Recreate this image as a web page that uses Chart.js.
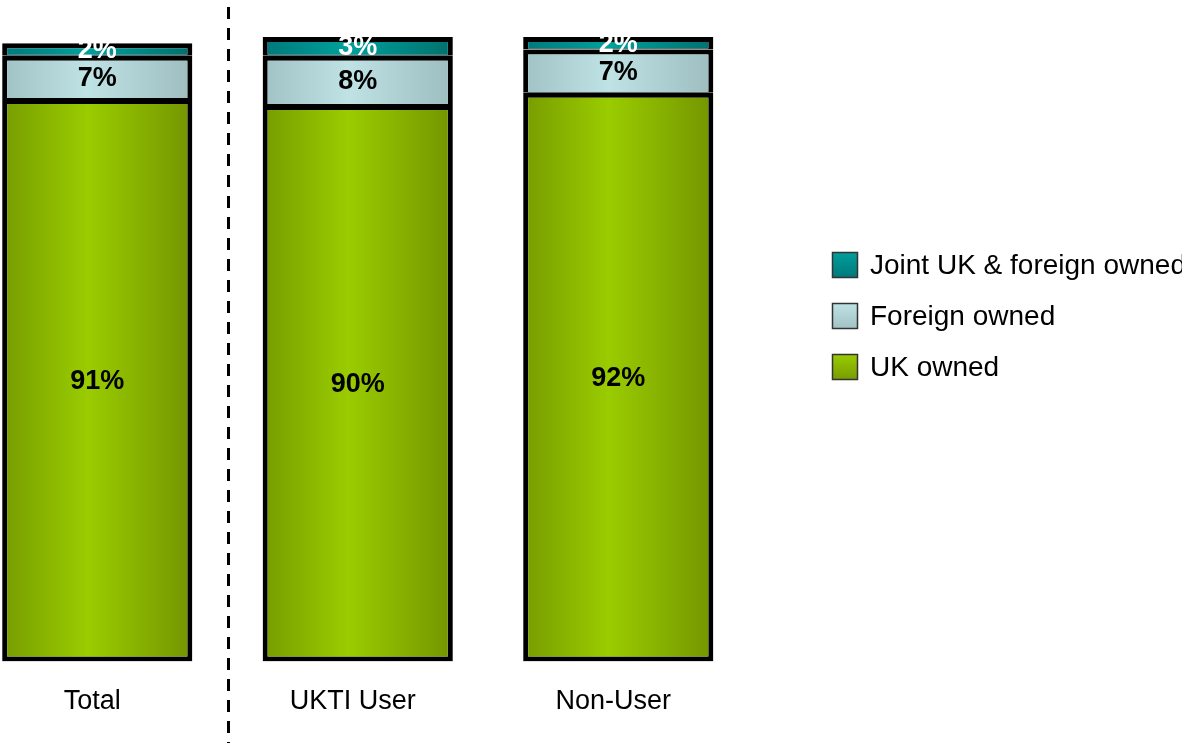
<!DOCTYPE html>
<html>
<head>
<meta charset="utf-8">
<script src="https://cdn.jsdelivr.net/npm/chart.js@4.4.1/dist/chart.umd.min.js"></script>
<style>
html, body { margin: 0; padding: 0; background: #fff; overflow: hidden; }
#page { position: relative; width: 1182px; height: 743px; overflow: hidden; }
/* the first category sits partly off the left edge, so the canvas starts left of the page */
#wrap { position: absolute; left: -33px; top: 0; width: 1215px; height: 743px; }
</style>
</head>
<body>
<div id="page"><div id="wrap"><canvas id="ownership"></canvas></div></div>
<script>
var categories = ['Total', 'UKTI User', 'Non-User'];
var ukOwned = [91, 90, 92];
var foreignOwned = [7, 8, 7];
var jointOwned = [2, 3, 2];
var seriesNames = ['UK owned', 'Foreign owned', 'Joint UK & foreign owned'];
var labelColors = ['#000', '#000', '#fff'];

var FONT = '"Liberation Sans", Arial, sans-serif';

// left edge / centre / right edge of the shading on each bar
var shades = [
    ['#779c00', '#9acc00', '#739500'],
    ['#a1c2c4', '#bfe2e5', '#9dbdbf'],
    ['#00787a', '#00a09c', '#00706e']
];

function barShade(colors) {
    return function (ctx) {
        var chart = ctx.chart;
        if (!chart.chartArea || ctx.dataIndex === undefined) return colors[1];
        var xs = chart.scales.x;
        var cx = xs.getPixelForValue(ctx.dataIndex);
        var half = xs.width / categories.length * 0.73 / 2;
        var g = chart.ctx.createLinearGradient(cx - half, 0, cx + half, 0);
        g.addColorStop(0, colors[0]);
        g.addColorStop(0.45, colors[1]);
        g.addColorStop(1, colors[2]);
        return g;
    };
}

// percentages written in the middle of every segment
var valueLabels = {
    id: 'valueLabels',
    afterDatasetsDraw: function (chart) {
        var ctx = chart.ctx;
        ctx.save();
        ctx.font = 'bold 27px ' + FONT;
        ctx.textAlign = 'center';
        ctx.textBaseline = 'middle';
        chart.data.datasets.forEach(function (ds, i) {
            chart.getDatasetMeta(i).data.forEach(function (bar, j) {
                ctx.fillStyle = labelColors[i];
                ctx.fillText(ds.data[j] + '%', bar.x, (bar.y + bar.base) / 2 + 1);
            });
        });
        ctx.restore();
    }
};

// dashed line between Total and the two groups
var divider = {
    id: 'divider',
    afterDraw: function (chart) {
        var ctx = chart.ctx;
        var x = Math.round(chart.scales.x.getPixelForValue(0.5)) + 0.5;
        ctx.save();
        ctx.strokeStyle = '#000';
        ctx.lineWidth = 3;
        ctx.setLineDash([12, 9]);
        ctx.beginPath();
        ctx.moveTo(x, 7);
        ctx.lineTo(x, chart.height);
        ctx.stroke();
        ctx.restore();
    }
};

// legend on the right, top item = top of the stack
var sideLegend = {
    id: 'sideLegend',
    afterDraw: function (chart) {
        var ctx = chart.ctx;
        var bx = chart.chartArea.right + 83.5;
        ctx.save();
        ctx.font = '28px ' + FONT;
        ctx.textBaseline = 'middle';
        ctx.textAlign = 'left';
        [2, 1, 0].forEach(function (di, row) {
            var y = 265 + row * 51;
            var g = ctx.createLinearGradient(0, y - 13, 0, y + 13);
            g.addColorStop(0, shades[di][1]);
            g.addColorStop(1, shades[di][0]);
            ctx.fillStyle = g;
            ctx.fillRect(bx, y - 13, 26, 26);
            ctx.strokeStyle = '#333';
            ctx.lineWidth = 1.5;
            ctx.strokeRect(bx + 0.5, y - 12.5, 25, 25);
            ctx.fillStyle = '#000';
            ctx.fillText(chart.data.datasets[di].label, bx + 38, y + 1);
        });
        ctx.restore();
    }
};

var common = {
    borderColor: '#000',
    borderSkipped: false,
    inflateAmount: 0,
    categoryPercentage: 0.73,
    barPercentage: 1
};
// upper segments keep only a hairline at the bottom so the joins are one thick line
var upperBorder = { top: 5, left: 5, right: 5, bottom: 1 };

new Chart(document.getElementById('ownership'), {
    type: 'bar',
    data: {
        labels: categories,
        datasets: [
            Object.assign({ label: seriesNames[0], data: ukOwned, backgroundColor: barShade(shades[0]), borderWidth: 5 }, common),
            Object.assign({ label: seriesNames[1], data: foreignOwned, backgroundColor: barShade(shades[1]), borderWidth: upperBorder }, common),
            Object.assign({ label: seriesNames[2], data: jointOwned, backgroundColor: barShade(shades[2]), borderWidth: upperBorder }, common)
        ]
    },
    options: {
        responsive: true,
        maintainAspectRatio: false,
        animation: false,
        layout: { padding: { left: 0, right: 433.5, top: 0, bottom: 1 } },
        plugins: {
            legend: { display: false },
            tooltip: { enabled: false }
        },
        scales: {
            x: {
                stacked: true,
                grid: { display: false, drawTicks: false },
                border: { display: false },
                ticks: { color: '#000', padding: 24, labelOffset: -5, font: { family: FONT, size: 27, lineHeight: 1.2 } }
            },
            y: { stacked: true, display: false, min: 0, max: 107 }
        }
    },
    plugins: [valueLabels, divider, sideLegend]
});
</script>
</body>
</html>
